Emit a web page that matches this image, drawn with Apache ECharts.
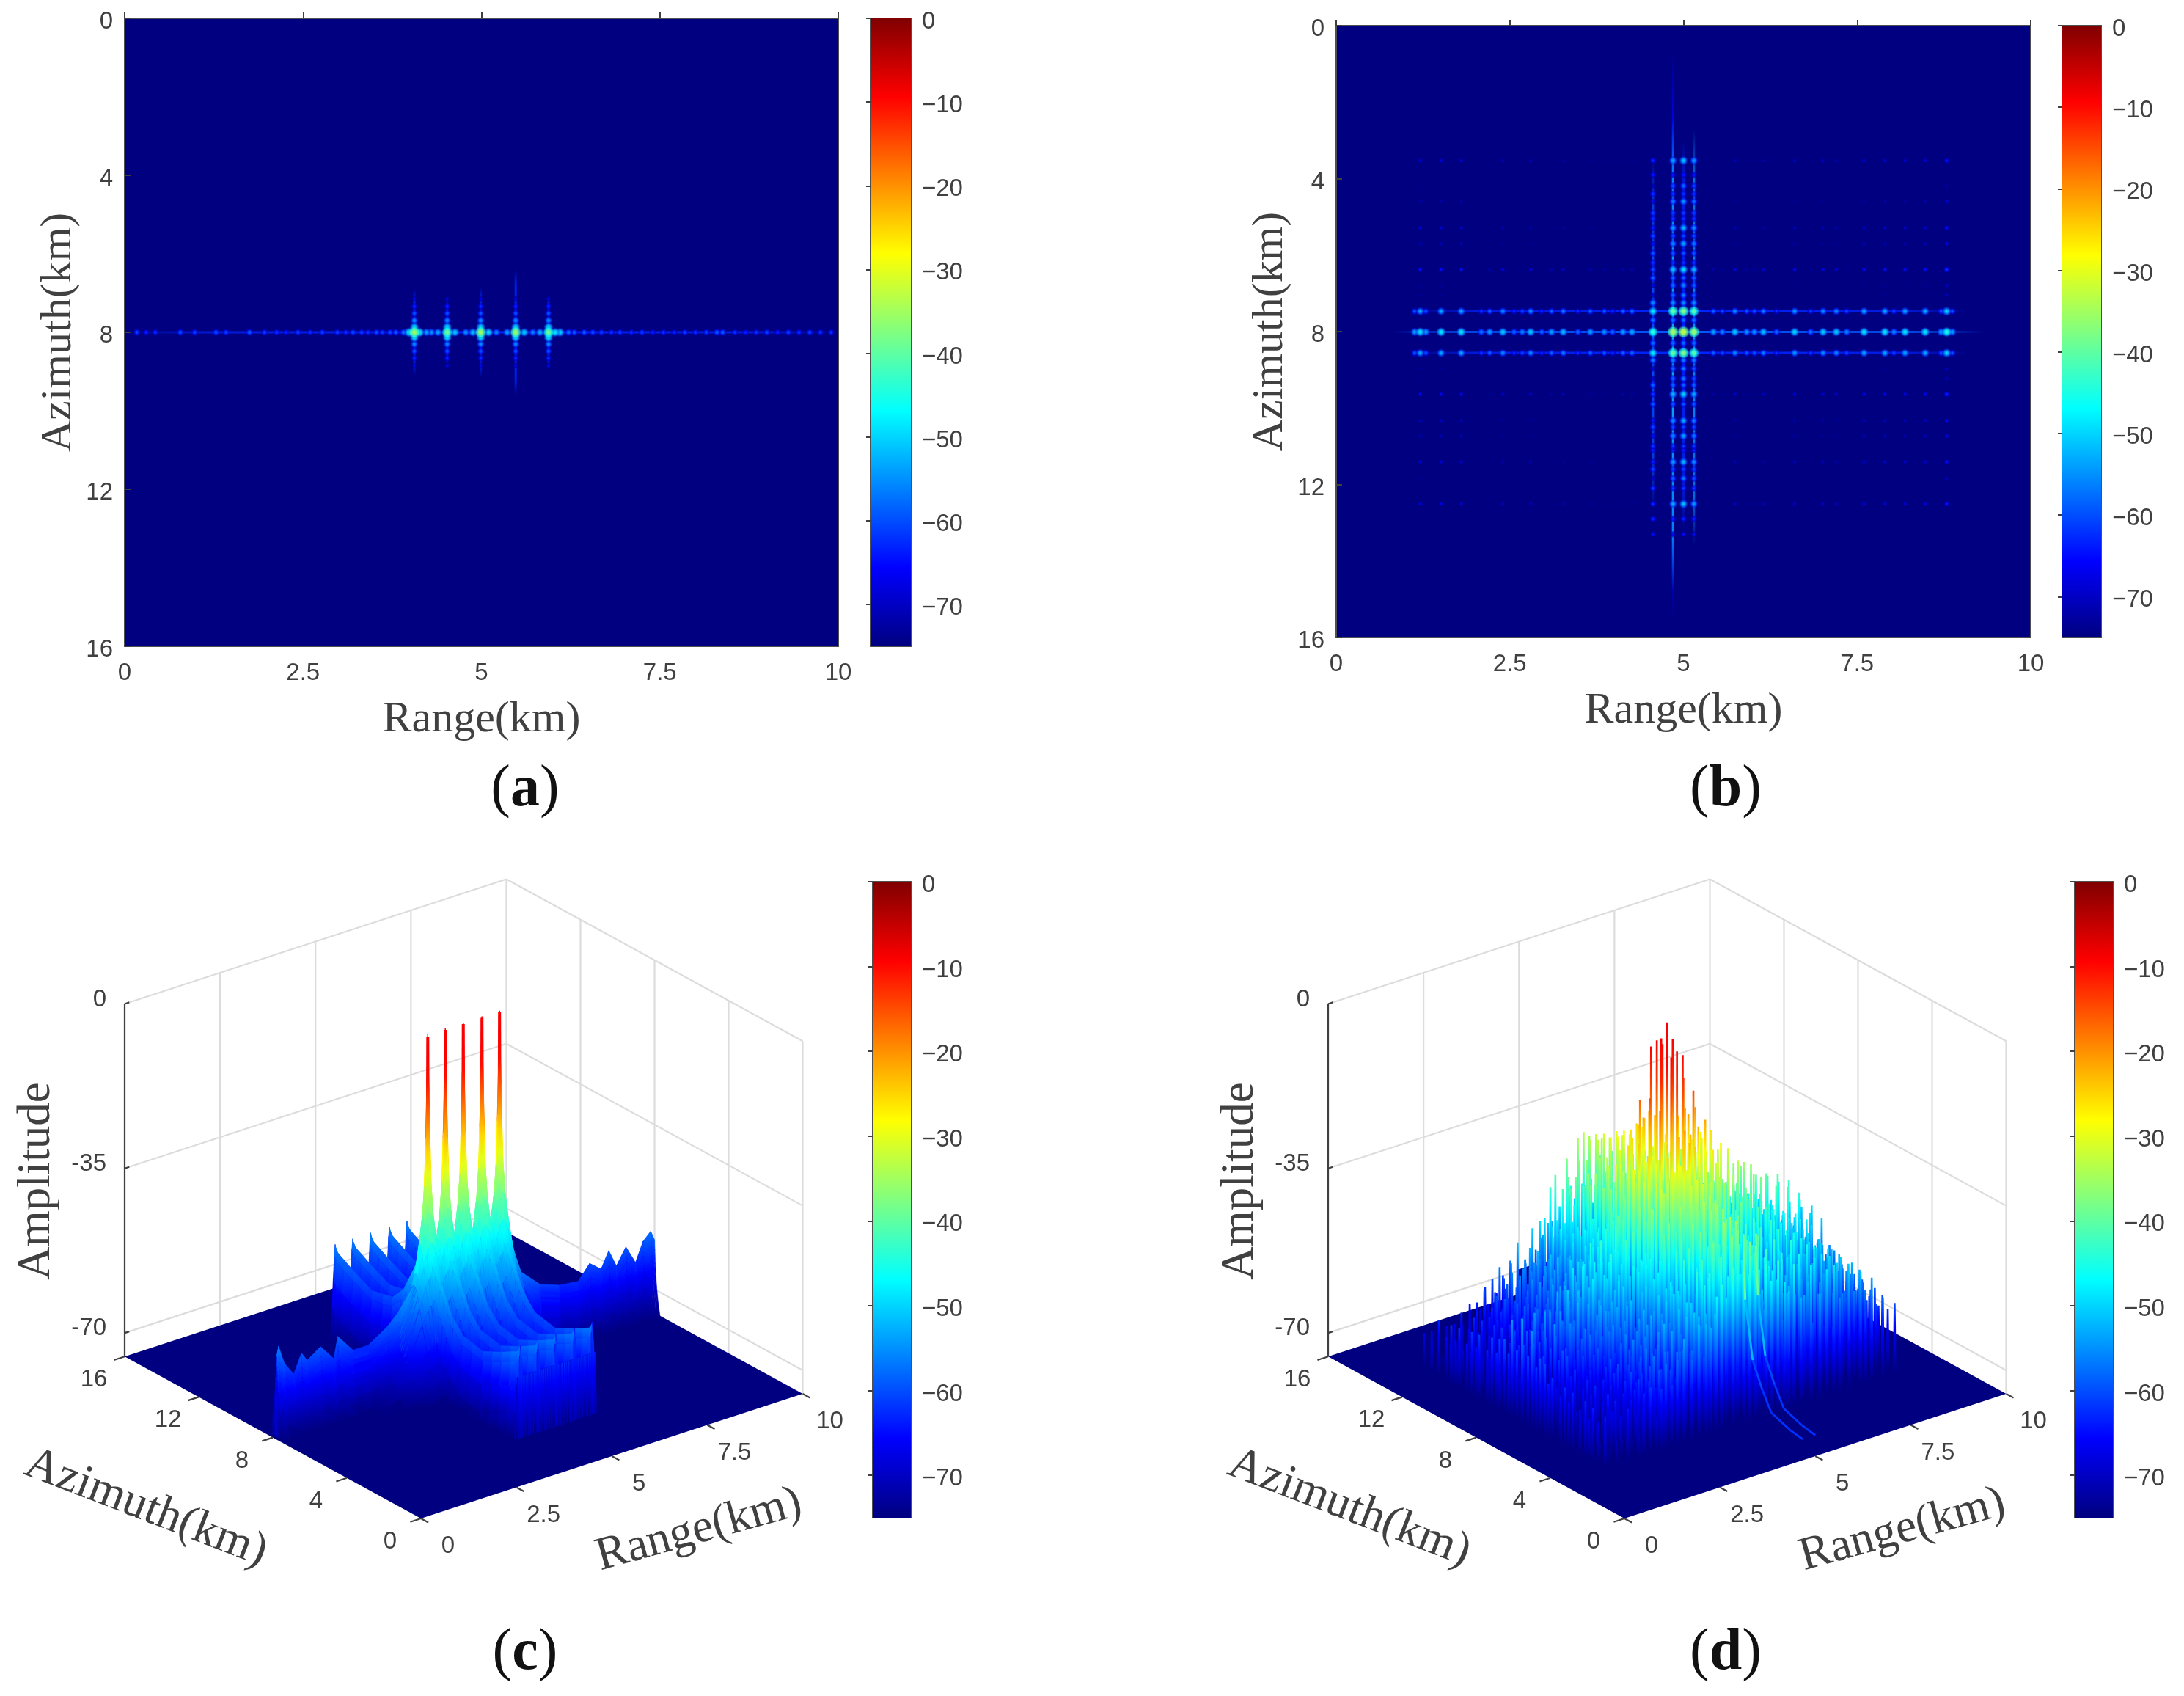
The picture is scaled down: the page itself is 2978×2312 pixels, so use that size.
<!DOCTYPE html>
<html><head><meta charset="utf-8">
<style>html,body{margin:0;padding:0;background:#fff}#c{width:2978px;height:2312px}</style>
<script src="https://cdn.jsdelivr.net/npm/echarts@6/dist/echarts.min.js"></script>
</head><body><div id="c"></div>
<script>
// ---------- shared axis values ----------
const rangeTicks=[0,2.5,5,7.5,10];
const azimuthTicks=[0,4,8,12,16];
const amplitudeTicks=[0,-35,-70];
const colorbarTicks=[0,-10,-20,-30,-40,-50,-60,-70];
const dbFloor=-75;

// ---------- panel (a): target line ----------
const aPeakRange=[4.06,4.52,4.99,5.48,5.94];
const aPeakDb=[-34,-37,-34,-34,-37];
const aColumnReach=[1.1,0.85,1.15,1.6,0.95];
const aLobeOffset=[0.13,0.3,0.48,0.66,0.85];
const aLobeDb=[-47,-54,-58,-61,-65];
const aRowRange=[0.17,0.3,0.43,0.78,0.98,1.28,1.42,1.75,1.96,2.13,2.26,2.43,2.6,2.77,2.98,3.10,3.20,3.32,3.41,3.53,3.61,3.72,3.80,3.91,3.99,4.13,4.23,4.30,4.39,4.63,4.78,4.88,5.10,5.21,5.36,5.60,5.72,5.82,6.03,6.10,6.22,6.30,6.44,6.56,6.68,6.82,6.94,7.1,7.25,7.4,7.55,7.7,7.85,8.0,8.15,8.3,8.38,8.55,8.7,8.85,9.0,9.15,9.3,9.45,9.6,9.75,9.9];
const aRowDb=[-59,-61,-60,-58,-59,-58,-59,-57,-59,-60,-61,-59,-60,-59,-59,-60,-58,-59,-60,-58,-59,-58,-57,-55,-45,-45,-52,-53,-52,-49,-53,-50,-48,-54,-52,-49,-54,-51,-47,-48,-56,-57,-57,-58,-59,-60,-59,-60,-59,-61,-60,-61,-59,-60,-59,-57,-57,-60,-61,-60,-59,-61,-59,-60,-59,-60,-60];

// ---------- panels (b) and (d): lattice ----------
const latticeRange=[1.21,1.51,1.80,2.09,2.21,2.40,2.56,2.68,2.80,2.96,3.10,3.27,3.48,3.66,3.86,3.98,4.13,4.26,4.56,4.85,5.0,5.15,5.43,5.56,5.74,5.91,6.02,6.15,6.34,6.6,6.83,7.01,7.2,7.35,7.6,7.9,8.03,8.19,8.48,8.79];
const bRangeDrop=[-16,-16,-16,-24,-21,-18,-25,-23,-18,-25,-21,-19,-25,-21,-22,-25,-21,-20,-11,-2,0,-3,-21,-23,-18,-22,-22,-19,-25,-17,-24,-18,-18,-23,-16,-16,-23,-16,-16,-13];
const latticeAzimuth=[3.53,4.19,4.60,5.29,5.70,6.38,6.79,7.05,7.47,8.01,8.56,8.97,9.23,9.64,10.33,10.73,11.41,11.84,12.51];
const bAzimuthDrop=[-19,-25,-22,-20,-21,-17,-23,-24,-5,0,-5,-24,-24,-18,-21,-21,-20,-24,-19];
const bCentreRange=[4.56,4.85,5.0,5.15];
const bCentreAzimuth=[3.9,4.4,4.9,5.05,5.5,5.95,6.2,6.6,7.25,7.7,8.3,8.75,9.4,9.9,10.5,11,11.1,11.6,12.1,12.9,13.3];
const bCentreDb=[-62,-60,-59,-60,-59,-58,-60,-57,-54,-56,-56,-55,-57,-58,-59,-60,-61,-59,-60,-61,-64];
const bTailRange=[1.13,1.29,8.71,8.87];
const bTailAzimuth=[7.47,8.01,8.56];
const bTailDb=[-58,-52,-58];
const bVerticalRange=[4.85,4.85,5.0,5.15,4.56];
const bVerticalFrom=[0.6,2.4,3.0,2.7,3.5];
const bVerticalTo=[15.6,14.8,13.2,13.6,12.6];
const bVerticalDb=[-66,-53,-63,-55,-60];
const bHorizontalAzimuth=[7.47,8.01,8.56];
const bHorizontalFrom=[1.1,0.8,1.1];
const bHorizontalTo=[9.1,9.35,9.1];
const bHorizontalDb=[-63,-59,-63];

const dRangeDrop=[-53,-53,-52,-52,-51,-50,-49,-47,-46,-45,-43,-42,-40,-38,-35,-32,-28,-24,-15,-3,0,-4,-10,-16,-20,-23,-24,-26,-28,-31,-33,-34,-36,-37,-39,-40,-41,-42,-46,-49];
const dRangeRipple=[0,-6,-1,-7,-3,0,-8,-4,0,-6,-3,0,-7,-2,-4,-6,-1,0,0,0,0,0,-3,-5,0,-4,-6,0,-7,0,-6,-1,0,-7,0,0,-8,0,-1,0];
const dAzimuthDrop=[-37,-36,-34,-33,-32,-30,-23,-21,-5,0,-5,-21,-23,-25,-28,-29,-31,-32,-33];
const dExtraAzimuth=[3.9,4.4,4.9,5.5,5.95,6.6,7.25,7.7,8.3,8.75,9.4,9.9,10.5,11,11.6,12.1,12.9,13.3];
const dExtraDrop=[-44,-45,-42,-41,-40,-36,-29,-24,-24,-30,-34,-36,-38,-39,-41,-42,-44,-48];
const dTailAzimuth=[13.6,14.2,14.8,15.4];
const dTailDb=[-62,-64,-66,-68];
const dCurveRange=[5.63,5.3];
const dCurveAzimuth=[1.3,2,3,3.5,4,4.4,4.5];
const dCurveDb=[-75,-74.5,-73,-69,-64,-52,-39];
const dCliffRange=[4.86,5.35];
const dCliffAzimuth=15.8;
const dCliffDb=-69;

// ---------- panel (c): profiles ----------
const cPeakRange=[4.06,4.52,4.99,5.48,5.94];
const cPeakDb=[-0.5,-0.3,-0.3,-0.3,-0.3];
const cRowRange=[0.1,0.15,0.3,0.55,0.75,0.9,1.25,1.6,1.7,2.1,2.5,3,3.3,3.7,4.06,4.3,4.52,4.75,4.99,5.25,5.48,5.7,5.94,6.2,6.5,7,7.5,8,8.3,8.6,8.8,9,9.25,9.5,9.7,9.9,10];
const cRowDb=[-58,-56,-60,-63,-59,-61,-59,-62.5,-58,-62,-62,-59.4,-57,-53,-47,-49,-47,-49,-47,-49,-47,-49,-47,-52,-57,-61,-62.5,-63,-60,-62,-58.6,-62.4,-59,-63,-59,-57.4,-59.5];
const cRowWidth=[0,0.03,0.06,0.1,0.2,0.3,0.31];
const cRowWidthDb=[0,-3,-6,-9,-13,-20,-99];
const cLobeOffset=[0,0.25,0.5,0.9,1.3,1.9,3,4,4.85,4.98,5.0];
const cLobeDb=[-44,-46,-49,-53,-57,-60,-61,-59,-57,-56,-55.5];
const cLobeWidth=[0,0.02,0.05,0.08,0.12,0.13];
const cLobeWidthDb=[0,-2,-7,-13,-20,-99];
const cSkirtRadius=[0,0.02,0.05,0.08,0.12,0.2,0.3,0.45,0.7,1.1,1.4];
const cSkirtDb=[0,-8,-22,-32,-38,-44,-50,-56,-64,-71,-75];
const cHemRange=[3.95,6.05];
const cHemOffset=[4.85,4.92,4.97,5.0];
const cHemDb=[-75,-70,-65,-62];

// ---------- helpers ----------
const SANS='Liberation Sans',SERIF='Liberation Serif',INK='#404040',NAVY='#000080';
function jetRGB(v){
  const t=Math.max(0,Math.min(1,(v-dbFloor)/(-dbFloor)));
  const s=[[0,0,0,128],[.125,0,0,255],[.375,0,255,255],[.625,255,255,0],[.875,255,0,0],[1,128,0,0]];
  for(let i=1;i<s.length;i++) if(t<=s[i][0]){
    const a=s[i-1],b=s[i],f=(t-a[0])/(b[0]-a[0]);
    return [0,1,2].map(k=>Math.round(a[k+1]+(b[k+1]-a[k+1])*f));
  }
  return [128,0,0];
}
const jet=(v,al)=>{const c=jetRGB(v);return al===undefined?`rgb(${c})`:`rgba(${c},${al})`;};
const jetSurf=v=>jet(Math.min(v,-9));
function lookup(xs,ys,x){
  if(x<=xs[0])return ys[0];
  for(let i=1;i<xs.length;i++) if(x<=xs[i]) return ys[i-1]+(ys[i]-ys[i-1])*(x-xs[i-1])/(xs[i]-xs[i-1]);
  return -99;
}
const heightStops=(zt,zb)=>{const o=[];for(let i=0;i<=8;i++)o.push({offset:i/8,color:jetSurf(zt+(zb-zt)*i/8)});return o;};
const nudged={s:{color:INK,fontFamily:SANS,fontSize:33,padding:[10,0,0,0]}};

const grids=[],xAxes=[],yAxes=[],series=[];
function customOn(g,items,draw,z){
  series.push({type:'custom',coordinateSystem:'cartesian2d',xAxisIndex:g,yAxisIndex:g,silent:true,animation:false,progressive:0,clip:false,z:z||2,
    data:items.map((d,i)=>[i]),renderItem:(p,api)=>draw(items[p.dataIndex],api)});
}
function addPlot(left,top,w,h,yGap,xGap){
  const g=grids.length;
  grids.push({left,top,width:w,height:h,show:true,backgroundColor:NAVY,borderColor:'#505050',borderWidth:2});
  const lbl={color:INK,fontFamily:SANS,fontSize:33};
  const nm={color:INK,fontFamily:SERIF,fontSize:60};
  xAxes.push({gridIndex:g,type:'value',min:0,max:10,interval:2.5,name:'Range(km)',nameLocation:'middle',nameGap:xGap,nameTextStyle:nm,
    axisLine:{show:false},axisTick:{inside:true,length:8,lineStyle:{color:INK,width:2}},axisLabel:{...lbl,margin:20},splitLine:{show:false}});
  yAxes.push({gridIndex:g,type:'value',inverse:true,min:0,max:16,interval:4,name:'Azimuth(km)',nameLocation:'middle',nameGap:yGap,nameTextStyle:nm,
    axisLine:{show:false},axisTick:{inside:true,length:8,lineStyle:{color:INK,width:2}},axisLabel:{...lbl,margin:16,formatter:v=>`{s|${v}}`,rich:nudged},splitLine:{show:false}});
  return g;
}
function addColorbar(left,top,w,h){
  const g=grids.length;
  grids.push({left,top,width:w,height:h,show:true,backgroundColor:'#fff',borderColor:'#505050',borderWidth:2});
  xAxes.push({gridIndex:g,type:'value',min:0,max:1,show:false});
  yAxes.push({gridIndex:g,type:'value',min:dbFloor,max:0,position:'right',splitLine:{show:false},axisLine:{show:false},
    axisTick:{inside:true,length:6,lineStyle:{color:INK,width:2},customValues:colorbarTicks},
    axisLabel:{color:INK,fontFamily:SANS,fontSize:33,margin:15,customValues:colorbarTicks,rich:nudged,formatter:v=>`{s|${String(v).replace('-','\u2212')}}`}});
  const stops=[0,.125,.25,.375,.5,.625,.75,.875,1].map(t=>({offset:1-t,color:jet(dbFloor*(1-t))}));
  customOn(g,[dbFloor],(d,api)=>{
    const a=api.coord([0,0]),b=api.coord([1,d]);
    return {type:'rect',shape:{x:a[0],y:a[1],width:b[0]-a[0],height:b[1]-a[1]},style:{fill:{type:'linear',x:0,y:0,x2:0,y2:1,colorStops:stops.slice().reverse()}}};
  });
}
// glow spots and fading streaks for the top-down images
function drawSpot(d,api){
  const p=api.coord([d[0],d[1]]),v=d[2],rad=3.8+Math.max(0,v+72)*0.13;
  return {type:'ellipse',shape:{cx:p[0],cy:p[1],rx:rad*1.2,ry:rad},style:{fill:{type:'radial',x:.5,y:.5,r:.5,colorStops:[
    {offset:0,color:jet(v)},{offset:.35,color:jet(v-4,.95)},{offset:.7,color:jet(v-10,.6)},{offset:1,color:'rgba(0,0,160,0)'}]}}};
}
function drawStreak(d,api){
  const a=api.coord([d[0],d[1]]),b=api.coord([d[2],d[3]]),v=d[4],vert=d[0]===d[2],th=3.2;
  const col=jet(v),geo=vert?{x:a[0]-th/2,y:a[1],width:th,height:b[1]-a[1]}:{x:a[0],y:a[1]-th/2,width:b[0]-a[0],height:th};
  return {type:'rect',shape:geo,style:{fill:{type:'linear',x:0,y:0,x2:vert?0:1,y2:vert?1:0,colorStops:[
    {offset:0,color:jet(v,0)},{offset:.12,color:jet(v,.75)},{offset:.5,color:col},{offset:.88,color:jet(v,.75)},{offset:1,color:jet(v,0)}]}}};
}

// ---------- 3-D projection on a hidden pair of value axes ----------
const PW=925,PH=868;
const proj=(r,a,z)=>[404+r*52.05-a*25.25, PH-r*17-a*13.8-((z===undefined?dbFloor:z)-dbFloor)*6.41];
function addFrame(left){
  const g=grids.length;
  grids.push({left,top:1202,width:PW,height:PH,show:false});
  xAxes.push({gridIndex:g,type:'value',min:0,max:PW,show:false});
  yAxes.push({gridIndex:g,type:'value',inverse:true,min:0,max:PH,show:false});
  return g;
}
function seg(c,d,api,col,w){
  const a=api.coord(proj(d[0],d[1],d[2])),b=api.coord(proj(d[3],d[4],d[5]));
  return {type:'line',shape:{x1:a[0],y1:a[1],x2:b[0],y2:b[1]},style:{stroke:col,lineWidth:w}};
}
function walls(g){
  const s=[];
  amplitudeTicks.forEach(z=>{s.push([0,16,z,10,16,z]);s.push([10,16,z,10,0,z]);});
  rangeTicks.forEach(r=>s.push([r,16,0,r,16,dbFloor]));
  azimuthTicks.slice(0,4).forEach(a=>s.push([10,a,0,10,a,dbFloor]));
  customOn(g,s,(d,api)=>seg(0,d,api,'#dcdcdc',2.2),1);
  customOn(g,[0],(d,api)=>{
    const pts=[[0,0],[10,0],[10,16],[0,16]].map(q=>api.coord(proj(q[0],q[1])));
    return {type:'polygon',shape:{points:pts},style:{fill:NAVY}};
  },1);
}
function frame(g){
  const s=[[0,16,0,0,16,dbFloor]];
  amplitudeTicks.forEach(z=>s.push([0,16,z,0.12,16,z]));
  azimuthTicks.forEach(a=>s.push([0,a,dbFloor,-0.28,a,dbFloor]));
  rangeTicks.forEach(r=>s.push([r,0,dbFloor,r,-0.4,dbFloor]));
  customOn(g,s,(d,api)=>seg(0,d,api,INK,2.2),5);
  const txt=[];
  amplitudeTicks.forEach(z=>txt.push(['t',String(z),0,16,z,-25,-6]));
  azimuthTicks.forEach(a=>txt.push(['c',String(a),0,a,dbFloor,-42,32]));
  rangeTicks.forEach(r=>txt.push(['c',String(r),r,0,dbFloor,37,38]));
  customOn(g,txt,(d,api)=>{
    const p=api.coord(proj(d[2],d[3],d[4]));
    return {type:'text',x:p[0]+d[5],y:p[1]+d[6],style:{text:d[1],fill:INK,fontFamily:SANS,fontSize:33,align:d[0]==='t'?'right':'center',verticalAlign:'middle'}};
  },5);
  const titles=[['Amplitude',-120,408,Math.PI/2,63],['Azimuth(km)',29,854,-0.37,64],['Range(km)',783,884,0.27,64]];
  customOn(g,titles,(d,api)=>{
    const p=api.coord([d[1],d[2]]);
    return {type:'text',x:p[0],y:p[1],rotation:d[3],style:{text:d[0],fill:INK,fontFamily:SERIF,fontSize:d[4],align:'center',verticalAlign:'middle'}};
  },5);
}

// ---------- (a) ----------
const gA=addPlot(170,25,973,856,60,70);
const aLine=[[0.05,8,9.98,8,-63]];
aPeakRange.forEach((r,i)=>aLine.push([r,8-aColumnReach[i],r,8+aColumnReach[i],-63]));
customOn(gA,aLine,drawStreak);
const aSpots=[];
aRowRange.forEach((r,i)=>aSpots.push([r,8,aRowDb[i]]));
aPeakRange.forEach((r,i)=>{
  aLobeOffset.forEach((o,j)=>{aSpots.push([r,8-o,aLobeDb[j]]);aSpots.push([r,8+o,aLobeDb[j]]);});
  aSpots.push([r,8,aPeakDb[i]]);
});
aSpots.sort((p,q)=>p[2]-q[2]);
customOn(gA,aSpots,drawSpot,3);
addColorbar(1187,25,55,856);

// ---------- (b) ----------
const gB=addPlot(1822,35,947,834,60,70);
const bStreaks=[];
bVerticalRange.forEach((r,i)=>bStreaks.push([r,bVerticalFrom[i],r,bVerticalTo[i],bVerticalDb[i]]));
bHorizontalAzimuth.forEach((a,i)=>bStreaks.push([bHorizontalFrom[i],a,bHorizontalTo[i],a,bHorizontalDb[i]]));
customOn(gB,bStreaks,drawStreak);
const bSpots=[];
latticeRange.forEach((r,i)=>latticeAzimuth.forEach((a,j)=>{
  const v=-31+bRangeDrop[i]+bAzimuthDrop[j];
  if(v>-73) bSpots.push([r,a,v]);
}));
bCentreRange.forEach(r=>bCentreAzimuth.forEach((a,j)=>bSpots.push([r,a,bCentreDb[j]])));
bTailRange.forEach(r=>bTailAzimuth.forEach((a,j)=>bSpots.push([r,a,bTailDb[j]])));
bSpots.sort((p,q)=>p[2]-q[2]);
customOn(gB,bSpots,drawSpot,3);
addColorbar(2812,35,53,834);

// ---------- (c) surface mesh ----------
const gC=addFrame(170);
walls(gC);
function surfC(r,a){
  const da=Math.abs(a-8);let best=dbFloor;
  if(r>=0.1&&r<=10) best=Math.max(best,lookup(cRowRange,cRowDb,r)+lookup(cRowWidth,cRowWidthDb,da));
  cPeakRange.forEach(t=>{
    const dr=Math.abs(r-t);
    if(da<=5.0) best=Math.max(best,lookup(cLobeOffset,cLobeDb,da)+lookup(cLobeWidth,cLobeWidthDb,dr));
    const rho=Math.hypot(dr,da);
    if(rho<1.4) best=Math.max(best,lookup(cSkirtRadius,cSkirtDb,rho));
  });
  if(a<8&&da>=cHemOffset[0]&&da<=5.0&&r>=cHemRange[0]&&r<=cHemRange[1]) best=Math.max(best,lookup(cHemOffset,cHemDb,da));
  return best;
}
const uniq=a=>[...new Set(a.map(v=>+v.toFixed(3)))].filter(v=>v>=0).sort((p,q)=>p-q);
const cMeshR=uniq([0,0.09,3.94,6.06,10].concat(cRowRange,
  ...cPeakRange.map(t=>[-.3,-.2,-.13,-.12,-.08,-.05,-.02,0,.02,.05,.08,.12,.13,.2,.3].map(o=>t+o))));
const cOff=[0,.02,.03,.05,.06,.08,.12,.2,.3,.31,.45,.7,.9,1.1,1.3,1.4,1.9,2.4,3,3.5,4,4.5,4.85,4.92,4.97,4.98,5,5.01];
const cMeshA=uniq([0,16].concat(...cOff.map(o=>[8-o,8+o])));
const cQuads=[];
for(let j=cMeshA.length-2;j>=0;j--)for(let i=cMeshR.length-2;i>=0;i--){
  const r0=cMeshR[i],r1=cMeshR[i+1],a0=cMeshA[j],a1=cMeshA[j+1];
  const q=[[r0,a0],[r1,a0],[r1,a1],[r0,a1]].map(c=>[c[0],c[1],surfC(c[0],c[1])]);
  if(Math.max(q[0][2],q[1][2],q[2][2],q[3][2])>dbFloor+0.5) cQuads.push(q);
}
customOn(gC,cQuads,(q,api)=>{
  const pts=q.map(c=>api.coord(proj(c[0],c[1],c[2])));
  const zs=q.map(c=>c[2]),zt=Math.max(...zs),zb=Math.min(...zs),ys=pts.map(p=>p[1]);
  const mean=(zs[0]+zs[1]+zs[2]+zs[3])/4;
  const fill=zt-zb<2?jetSurf(mean):{type:'linear',global:true,x:0,y:Math.min(...ys),x2:0,y2:Math.max(...ys)+.01,colorStops:heightStops(zt,zb)};
  return {type:'polygon',shape:{points:pts},style:{fill,stroke:jetSurf(mean),lineWidth:.4}};
},3);
customOn(gC,cPeakRange.map((r,i)=>[r,cPeakDb[i]]),(d,api)=>{
  const t=api.coord(proj(d[0],8,d[1])),b=api.coord(proj(d[0],8,-40));
  return {type:'polygon',shape:{points:[[t[0]-2,t[1]],[t[0]+2,t[1]],[b[0]+3,b[1]],[b[0]-3,b[1]]]},
    style:{fill:{type:'linear',global:true,x:0,y:t[1],x2:0,y2:b[1],colorStops:heightStops(d[1],-40)}}};
},4);
frame(gC);
addColorbar(1190,1202,52,867);

// ---------- (d) stems ----------
const gD=addFrame(1811);
walls(gD);
customOn(gD,[dCliffDb],(z,api)=>{
  const pts=[[dCliffRange[0],z],[dCliffRange[1],z],[dCliffRange[1],dbFloor],[dCliffRange[0],dbFloor]].map(q=>api.coord(proj(q[0],dCliffAzimuth,q[1])));
  return {type:'polygon',shape:{points:pts},style:{fill:'#00008c'}};
},2);
const dAzAll=latticeAzimuth.concat(dExtraAzimuth),dDropAll=dAzimuthDrop.concat(dExtraDrop);
const dStems=[];
latticeRange.forEach((r,i)=>dAzAll.forEach((a,j)=>{
  const c=dRangeDrop[i],w=dDropAll[j],z=Math.min(c,w)+0.3*Math.max(c,w)+dRangeRipple[i];
  if(z>-73) dStems.push([r,a,z]);
}));
dTailAzimuth.forEach((a,j)=>{dStems.push([4.85,a,dTailDb[j]]);dStems.push([5.15,a,dTailDb[j]-3]);});
dStems.sort((p,q)=>(proj(p[0],p[1])[1])-(proj(q[0],q[1])[1]));
customOn(gD,dStems,(d,api)=>{
  const t=api.coord(proj(d[0],d[1],d[2])),b=api.coord(proj(d[0],d[1]));
  return {type:'polygon',shape:{points:[[t[0]-1.3,t[1]],[t[0]+1.3,t[1]],[b[0]+2.4,b[1]],[b[0]-2.4,b[1]]]},
    style:{fill:{type:'linear',global:true,x:0,y:t[1],x2:0,y2:b[1],colorStops:heightStops(d[2],dbFloor)}}};
},3);
const dCurveSegs=[];
dCurveRange.forEach(r=>{for(let i=0;i<dCurveAzimuth.length-1;i++)dCurveSegs.push([r,dCurveAzimuth[i],dCurveDb[i],r,dCurveAzimuth[i+1],dCurveDb[i+1]]);});
customOn(gD,dCurveSegs,(d,api)=>seg(0,d,api,jet(Math.max((d[2]+d[5])/2+6,-62)),2.8),4);
frame(gD);
addColorbar(2829,1202,52,867);

// ---------- captions ----------
const captions=[['a',716,1077],['b',2353,1077],['c',716,2254],['d',2353,2254]];
const graphic=captions.map(c=>({type:'text',x:c[1],y:c[2],style:{
  text:`{p|(}{b|${c[0]}}{p|)}`,align:'center',verticalAlign:'middle',
  rich:{p:{fontFamily:SERIF,fontSize:80,fill:'#111',fontWeight:'normal'},b:{fontFamily:SERIF,fontSize:80,fill:'#111',fontWeight:'bold'}}}}));

const chart=echarts.init(document.getElementById('c'),null,{renderer:'canvas',width:2978,height:2312});
chart.setOption({animation:false,backgroundColor:'#ffffff',grid:grids,xAxis:xAxes,yAxis:yAxes,series,graphic});
</script></body></html>
